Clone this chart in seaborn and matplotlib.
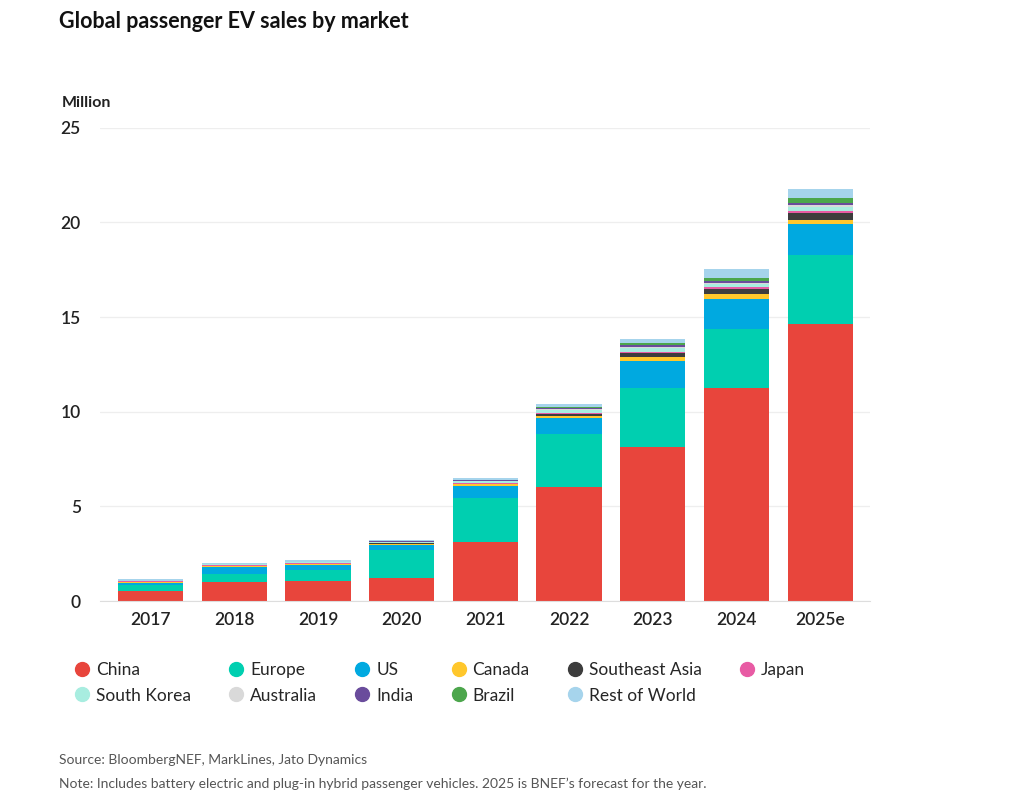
import numpy as np
import pandas as pd
import matplotlib
matplotlib.use("Agg")
import matplotlib.pyplot as plt
from matplotlib.lines import Line2D
import seaborn as sns

years = ["2017", "2018", "2019", "2020", "2021", "2022", "2023", "2024", "2025e"]
markets = ["China", "Europe", "US", "Canada", "Southeast Asia", "Japan",
           "South Korea", "Australia", "India", "Brazil", "Rest of World"]

china = [0.54, 1.03, 1.08, 1.23, 3.10, 6.03, 8.14, 11.26, 14.64]
europe = [0.32, 0.40, 0.58, 1.47, 2.37, 2.80, 3.12, 3.12, 3.65]
us = [0.12, 0.37, 0.26, 0.27, 0.63, 0.84, 1.42, 1.55, 1.64]
canada = [0.02, 0.04, 0.05, 0.07, 0.08, 0.12, 0.22, 0.27, 0.21]
southeast_asia = [0.01, 0.01, 0.01, 0.01, 0.03, 0.10, 0.20, 0.30, 0.38]
japan = [0.05, 0.05, 0.04, 0.03, 0.04, 0.06, 0.08, 0.08, 0.08]
south_korea = [0.02, 0.04, 0.04, 0.05, 0.10, 0.16, 0.16, 0.16, 0.20]
australia = [0.01, 0.01, 0.01, 0.01, 0.02, 0.04, 0.10, 0.08, 0.10]
india = [0.00, 0.00, 0.00, 0.01, 0.01, 0.04, 0.09, 0.10, 0.14]
brazil = [0.00, 0.00, 0.01, 0.01, 0.02, 0.04, 0.10, 0.15, 0.23]
rest_of_world = [0.06, 0.05, 0.10, 0.08, 0.10, 0.18, 0.22, 0.48, 0.51]

series = [china, europe, us, canada, southeast_asia, japan, south_korea,
          australia, india, brazil, rest_of_world]
colors = ["#E8453C", "#00CFB0", "#00A9E0", "#FFC72C", "#3D3D3D", "#E85BA4",
          "#A8EDE0", "#D9D9D9", "#6A4C9C", "#4CA64C", "#A6D4EC"]

sns.set_style("white")
plt.rcParams["font.family"] = ["Lato", "DejaVu Sans"]

fig = plt.figure(figsize=(10.24, 8.08), dpi=100)
ax = fig.add_axes([0.098, 0.256, 0.752, 0.586])

bottom = np.zeros(len(years))
for name, vals, col in zip(markets, series, colors):
    df = pd.DataFrame({"year": years, "value": vals})
    sns.barplot(data=df, x="year", y="value", color=col, bottom=bottom,
                width=0.78, ax=ax, saturation=1, linewidth=0)
    bottom += np.array(vals)

ax.set_ylim(0, 25)
ax.set_yticks([0, 5, 10, 15, 20, 25])
ax.set_xlim(-0.6, len(years) - 0.4)
ax.grid(axis="y", color="#EEEEEE", linewidth=0.9)
ax.set_axisbelow(True)
for s in ["top", "right", "left"]:
    ax.spines[s].set_visible(False)
ax.spines["bottom"].set_color("#DDDDDD")
ax.set_xlabel("")
ax.set_ylabel("")
ax.tick_params(axis="y", length=0, labelsize=12.5, pad=14, colors="#222222")
ax.tick_params(axis="x", length=0, labelsize=12.5, pad=8, colors="#222222")
for lab in ax.get_xticklabels() + ax.get_yticklabels():
    lab.set_fontweight("semibold")

fig.text(0.058, 0.973, "Global passenger EV sales by market", fontsize=15.5,
         fontweight="bold", va="center", color="#111111")
fig.text(0.06, 0.873, "Million", fontsize=11.5, fontweight="bold", va="center", color="#222222")

# legend filled row by row
order = [0, 6, 1, 7, 2, 8, 3, 9, 4, 10, 5]
handles = [Line2D([], [], marker="o", linestyle="", markersize=10, color=colors[i]) for i in order]
labels = [markets[i] for i in order]
fig.legend(handles, labels, loc="upper left", bbox_to_anchor=(0.055, 0.2), ncol=6,
           frameon=False, fontsize=12.5, handletextpad=0.2, columnspacing=2.0,
           labelspacing=0.55, handlelength=1.2)

fig.text(0.058, 0.06, "Source: BloombergNEF, MarkLines, Jato Dynamics", fontsize=10,
         color="#555555", va="center")
fig.text(0.058, 0.030, "Note: Includes battery electric and plug-in hybrid passenger vehicles. "
         "2025 is BNEF\u2019s forecast for the year.", fontsize=10, color="#555555", va="center")

fig.savefig("out.png", dpi=100, facecolor="white")
